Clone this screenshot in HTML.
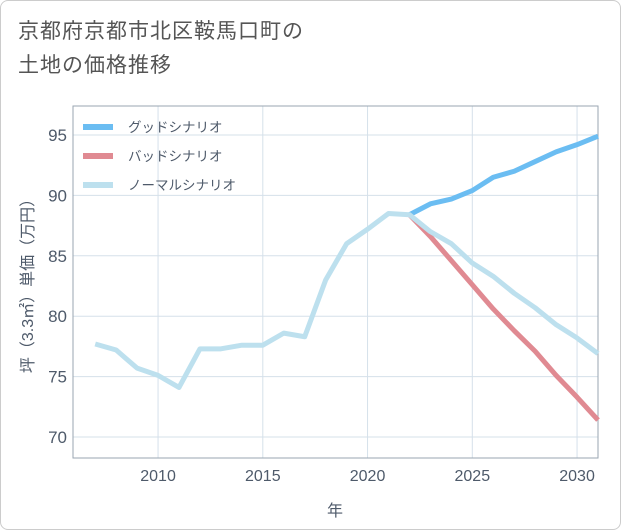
<!DOCTYPE html>
<html><head><meta charset="utf-8"><style>
body{margin:0;background:#fff;}
#wrap{position:relative;width:619px;height:528px;border:1px solid #ccc;border-radius:8px;background:#fff;overflow:hidden;font-family:"Liberation Sans","Noto Sans CJK JP",sans-serif;}
#title{position:absolute;left:17px;top:14px;font-size:21px;line-height:34px;color:#555;letter-spacing:1px;}
svg{position:absolute;left:0;top:0;}
</style></head><body>
<div id="wrap">
<div id="title">京都府京都市北区鞍馬口町の<br>土地の価格推移</div>
<svg id="chart" width="621" height="530"></svg>
</div>
<script>
const years=[2007,2008,2009,2010,2011,2012,2013,2014,2015,2016,2017,2018,2019,2020,2021,2022,2023,2024,2025,2026,2027,2028,2029,2030,2031];
const normal=[77.7,77.2,75.7,75.1,74.1,77.3,77.3,77.6,77.6,78.6,78.3,83,86,87.2,88.5,88.4,87,86,84.4,83.3,81.9,80.7,79.3,78.2,76.9];
const futYears=[2022,2023,2024,2025,2026,2027,2028,2029,2030,2031];
const good=[88.4,89.3,89.7,90.4,91.5,92,92.8,93.6,94.2,94.9];
const bad=[88.4,86.6,84.6,82.6,80.6,78.8,77.1,75.1,73.3,71.4];
const xTicks=[2010,2015,2020,2025,2030];
const yTicks=[70,75,80,85,90,95];
const L=72,R=597,T=105,B=457;
const x=v=>L+(v-2005.94)*(R-L)/(2031-2005.94);
const y=v=>436-(v-70)*(436-134)/25;
const NS='http://www.w3.org/2000/svg';
const svg=document.getElementById('chart');
function mk(t,a,p){const e=document.createElementNS(NS,t);for(const k in a)e.setAttribute(k,a[k]);(p||svg).appendChild(e);return e;}
xTicks.forEach(v=>{const l=mk('line',{x1:x(v),x2:x(v),y1:T,y2:B,stroke:'#d5e0ea','stroke-width':1});


const t=mk('text',{x:x(v),y:480,'text-anchor':'middle','font-size':16,fill:'#4e5a6a'});t.textContent=v;

});
yTicks.forEach(v=>{const l=mk('line',{x1:L,x2:R,y1:y(v),y2:y(v),stroke:'#d5e0ea','stroke-width':1});


const t=mk('text',{x:66,y:y(v)+6,'text-anchor':'end','font-size':17,fill:'#4e5a6a'});t.textContent=v;

});
const box=mk('rect',{x:L,y:T,width:R-L,height:B-T,fill:'none',stroke:'#9aa6b2','stroke-width':1});


function line(xs,ys,c,name){const p=mk('polyline',{points:xs.map((v,i)=>x(v)+','+y(ys[i])).join(' '),fill:'none',stroke:c,'stroke-width':5,'stroke-linejoin':'round'});

}
line(futYears,good,'#6bbdf2','good-scenario-line');
line(futYears,bad,'#e08a92','bad-scenario-line');
line(years,normal,'#bde0ee','normal-scenario-line');
const leg=[['グッドシナリオ','#6bbdf2',126],['バッドシナリオ','#e08a92',155],['ノーマルシナリオ','#bde0ee',184]];
leg.forEach(d=>{
const s=mk('line',{x1:82,x2:112,y1:d[2],y2:d[2],stroke:d[1],'stroke-width':6});


const t=mk('text',{x:127,y:d[2]+5,'font-size':13.5,fill:'#4e5a6a'});t.textContent=d[0];

});
const xt=mk('text',{x:334,y:515,'text-anchor':'middle','font-size':16,fill:'#4e5a6a'});xt.textContent='年';


const yt=mk('text',{x:0,y:0,'text-anchor':'middle','font-size':16,fill:'#4e5a6a',transform:'translate(32,281) rotate(-90)'});yt.textContent='坪（3.3㎡）単価（万円）';


</script>
</body></html>
